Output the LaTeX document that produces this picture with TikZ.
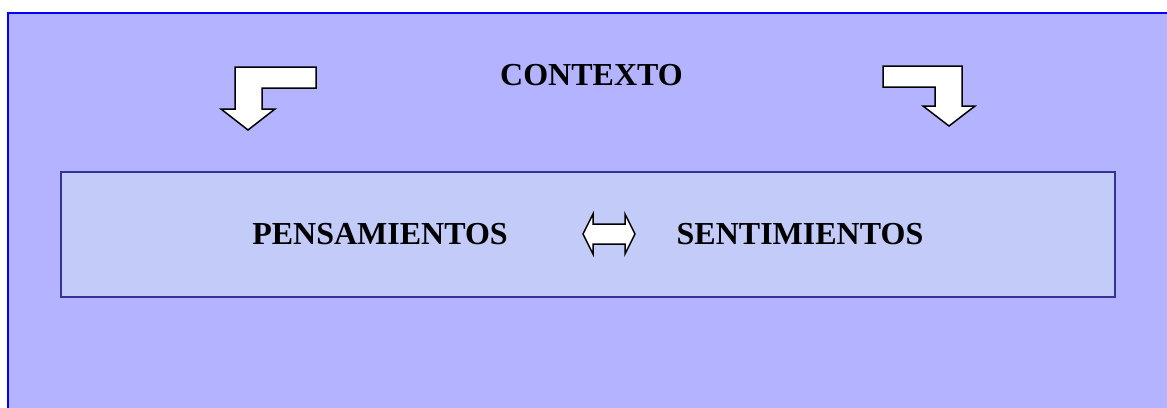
\documentclass[tikz,border=0pt]{standalone}
\usepackage{fontspec}
\setmainfont{Liberation Serif}
\definecolor{outerfill}{HTML}{B3B3FF}
\definecolor{innerfill}{HTML}{C3CBF8}
\definecolor{innerline}{HTML}{333399}
\definecolor{outerline}{HTML}{0000FF}
\tikzset{
  lbl/.style={font=\fontsize{32}{36}\selectfont\bfseries, text=black, inner sep=0pt},
  arrowshape/.style={fill=white, draw=black, line width=1.5pt, line join=miter},
}
\begin{document}
\begin{tikzpicture}[x=1pt,y=-1pt]
\useasboundingbox (0,0) rectangle (1167,407);
\fill[white] (0,0) rectangle (1167,407);
\fill[outerfill] (8,13) rectangle (1172,412);
\draw[outerline, line width=2.2pt] (8,412) -- (8,13) -- (1172,13);
\draw[innerline, fill=innerfill, line width=1.5pt] (61,172) rectangle (1115,297);
\node[lbl] (ctx) at (591.5,75.5) {CONTEXTO};
\node[lbl] (pen) at (380,234) {PENSAMIENTOS};
\node[lbl] (sen) at (800,234) {SENTIMIENTOS};
\draw[arrowshape] (235,67) -- (316,67) -- (316,88) -- (262,88) -- (262,109) -- (275,109) -- (248,130) -- (221,109) -- (235,109) -- cycle;
\draw[arrowshape] (883,66) -- (962,66) -- (962,106) -- (975,106) -- (949,126) -- (923,106) -- (935,106) -- (935,87) -- (883,87) -- cycle;
\draw[arrowshape] (583,234) -- (593,214) -- (593,224) -- (625,224) -- (625,214) -- (635,234) -- (625,254) -- (625,244) -- (593,244) -- (593,254) -- cycle;
\end{tikzpicture}
\end{document}
